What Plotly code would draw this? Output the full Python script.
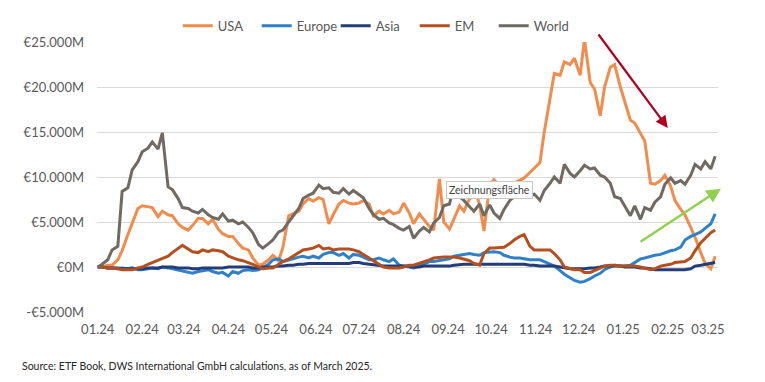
import plotly.graph_objects as go
from datetime import date, timedelta

# Observation dates: twice a week (Mon / Thu) from 1 Jan 2024 to 6 Mar 2025
start = date(2024, 1, 1)
dates = [start + timedelta(days=7 * (i // 2) + 3 * (i % 2)) for i in range(124)]

# Cumulative flows, in € thousand million
usa = [0, 0, 0.2, 0.2, 0.8, 1.8, 3.6, 4.8, 6.5, 6.8, 6.7, 6.6, 5.6, 6.2, 5.8, 5.7, 4.8, 4.4, 4.1, 4.6,
       5.4, 5.4, 4.8, 5.3, 4.2, 3.7, 3.4, 3.4, 2.6, 2.1, 1.9, 1.0, 0.2, 0.3, 0.8, 1.3, 0.7, 2.2, 5.7, 5.9,
       6.2, 7.0, 7.6, 7.3, 7.7, 7.5, 4.8, 5.8, 7.0, 7.4, 7.1, 7.0, 7.1, 7.4, 7.0, 5.7, 6.2, 5.9, 6.3, 5.9,
       6.1, 7.1, 6.0, 4.8, 5.9, 5.3, 4.5, 4.1, 9.8, 5.0, 4.2, 5.3, 6.8, 6.2, 7.6, 8.9, 6.9, 4.0, 9.1, 9.7,
       8.9, 8.6, 9.1, 9.3, 9.6, 9.9, 10.5, 11.0, 11.6, 15.0, 19.0, 21.5, 21.3, 22.8, 22.5, 23.2, 21.3, 25.3, 20.5, 19.8,
       16.8, 20.0, 22.2, 22.5, 20.0, 18.5, 16.3, 16.0, 14.9, 14.0, 9.3, 9.2, 9.6, 10.2, 9.0, 7.4, 6.4, 5.8, 4.4, 3.3,
       1.6, 0.4, -0.2, 1.2]

europe = [0, 0, -0.1, -0.1, -0.2, -0.1, -0.2, -0.1, -0.3, -0.3, -0.2, -0.1, -0.2, 0, -0.1, -0.2, -0.3, -0.4, -0.6, -0.7,
          -0.5, -0.4, -0.3, -0.5, -0.7, -0.6, -1.0, -0.5, -0.7, -0.4, -0.3, -0.4, -0.3, -0.1, 0.3, 0.8, 0.9, 0.6, 0.8, 0.9,
          1.1, 1.2, 1.0, 1.2, 1.0, 1.4, 1.6, 1.6, 1.3, 1.5, 1.0, 1.4, 1.3, 1.1, 0.8, 0.8, 1.0, 0.8, 0.6, 0.9,
          0.2, 0.1, 0, -0.1, 0.1, 0.3, 0.6, 0.6, 0.7, 0.8, 0.9, 1.2, 1.3, 1.4, 1.5, 1.4, 1.3, 1.6, 1.7, 1.7,
          1.6, 1.3, 1.1, 1.0, 1.0, 0.9, 0.8, 0.8, 0.8, 0.6, 0.3, 0.1, -0.4, -0.8, -1.2, -1.5, -1.7, -1.6, -1.3, -1.0,
          -0.7, -0.3, 0, 0.2, 0.1, 0.1, 0.2, 0.5, 0.9, 1.0, 1.2, 1.3, 1.4, 1.6, 1.8, 1.9, 2.2, 3.0, 3.4, 3.6,
          3.9, 4.3, 4.8, 5.9]

asia = [0, 0, -0.1, -0.1, -0.1, -0.2, -0.2, -0.2, -0.2, -0.2, -0.1, -0.1, -0.1, 0, 0, 0, -0.1, -0.1, -0.1, -0.2,
        -0.2, -0.1, -0.1, -0.1, -0.1, -0.1, 0, 0, 0, 0, 0, -0.1, -0.1, 0, 0, 0, 0.1, 0.1, 0.2, 0.2,
        0.3, 0.3, 0.4, 0.4, 0.4, 0.4, 0.4, 0.4, 0.4, 0.4, 0.4, 0.5, 0.5, 0.4, 0.3, 0.3, 0.2, 0.1, 0.1, 0.1,
        0.1, 0.1, 0.1, 0, 0, 0.1, 0.1, 0.1, 0.1, 0.1, 0.1, 0.2, 0.3, 0.3, 0.3, 0.3, 0.3, 0.3, 0.3, 0.3,
        0.3, 0.3, 0.3, 0.3, 0.3, 0.3, 0.2, 0.2, 0.1, 0.1, 0.1, 0.1, 0, -0.1, -0.2, -0.2, -0.2, -0.2, -0.1, -0.1,
        0, 0.1, 0.1, 0.1, 0.1, 0, 0, 0, -0.1, -0.1, -0.2, -0.3, -0.3, -0.3, -0.3, -0.3, -0.3, -0.3, -0.2, 0.1,
        0.2, 0.3, 0.4, 0.5]

em = [0, 0, -0.1, -0.1, -0.2, -0.3, -0.3, -0.3, -0.1, 0, 0.3, 0.5, 0.7, 0.9, 1.2, 1.6, 2.1, 2.4, 2.0, 1.7,
      1.6, 1.9, 1.7, 1.9, 1.8, 1.7, 1.2, 1.0, 0.8, 0.7, 0.5, 0.3, 0, -0.2, -0.1, -0.1, 0.3, 0.6, 0.9, 1.2,
      1.6, 1.9, 2.0, 2.1, 2.4, 2.0, 2.1, 1.9, 2.0, 2.0, 2.0, 1.9, 1.7, 1.4, 1.0, 0.7, 0.3, 0, -0.1, -0.1,
      -0.1, 0, 0.2, 0.2, 0.4, 0.6, 0.8, 1.0, 1.1, 1.1, 1.1, 1.1, 1.0, 0.9, 0.7, 0.4, 0.2, 1.5, 2.1, 2.1,
      2.2, 2.2, 2.6, 3.0, 3.4, 3.6, 2.3, 1.9, 1.9, 1.9, 1.9, 1.5, 0.8, 0, -0.2, -0.3, -0.3, -0.6, -0.6, -0.4,
      -0.1, 0.1, 0.2, 0.2, 0.1, 0.1, 0.1, 0.1, 0, -0.1, -0.3, -0.2, 0.1, 0.2, 0.3, 0.5, 0.6, 0.6, 1.0, 1.8,
      2.7, 3.2, 3.8, 4.1]

world = [0, 0.3, 0.8, 1.9, 2.3, 8.4, 8.8, 10.8, 11.7, 12.8, 13.2, 13.9, 13.1, 14.9, 8.9, 8.6, 7.6, 6.6, 6.5, 6.2,
         6.0, 6.4, 5.8, 5.5, 5.3, 5.9, 5.1, 5.2, 4.8, 5.0, 4.4, 3.8, 2.5, 2.1, 2.6, 3.0, 3.9, 4.1, 5.0, 5.6,
         6.5, 7.6, 8.0, 8.2, 9.1, 8.7, 8.8, 8.3, 8.2, 8.7, 8.1, 8.5, 8.0, 7.7, 6.5, 5.8, 5.3, 5.4, 4.9, 4.7,
         4.3, 4.1, 4.5, 3.2, 4.0, 4.4, 3.9, 4.9, 5.5, 6.8, 7.0, 9.0, 7.8, 7.4, 6.7, 6.2, 7.0, 5.7, 6.9, 6.0,
         5.4, 6.4, 7.4, 7.8, 7.9, 8.5, 7.8, 8.1, 7.4, 8.5, 9.3, 10.0, 9.3, 11.4, 10.4, 10.0, 10.7, 11.3, 10.9, 11.0,
         10.2, 10.0, 9.3, 7.8, 7.6, 6.8, 5.7, 6.8, 5.3, 6.6, 6.3, 7.2, 7.8, 9.2, 9.9, 9.3, 9.6, 9.2, 10.2, 11.4,
         10.9, 11.7, 10.9, 12.3]

series_names = ["USA", "Europe", "Asia", "EM", "World"]
series_values = [usa, europe, asia, em, world]
series_colors = ["#F28C4D", "#2F80C6", "#223D78", "#B4501F", "#716A62"]

month_ticks = ["2024-01-01", "2024-02-01", "2024-03-01", "2024-04-01", "2024-05-01", "2024-06-01",
               "2024-07-01", "2024-08-01", "2024-09-01", "2024-10-01", "2024-11-01", "2024-12-01",
               "2025-01-01", "2025-02-01", "2025-03-01"]
month_labels = ["01.24", "02.24", "03.24", "04.24", "05.24", "06.24", "07.24", "08.24", "09.24",
                "10.24", "11.24", "12.24", "01.25", "02.25", "03.25"]

y_ticks = [-5000, 0, 5000, 10000, 15000, 20000, 25000]
y_labels = ["-€5.000M", "€0M", "€5.000M", "€10.000M", "€15.000M", "€20.000M", "€25.000M"]

FONT = "Lato"
TXT = "#595959"

fig = go.Figure()
for name, vals, col in zip(series_names, series_values, series_colors):
    fig.add_trace(go.Scatter(
        x=dates, y=[v * 1000 for v in vals], name=name, mode="lines",
        line=dict(color=col, width=3, shape="linear"),
    ))

# Trend arrows (data coordinates)
fig.add_annotation(x="2025-02-01", y=15450, ax="2024-12-14", ay=26000,
                   xref="x", yref="y", axref="x", ayref="y", text="",
                   showarrow=True, arrowhead=2, arrowsize=1.1, arrowwidth=2.2,
                   arrowcolor="#B0001E")
fig.add_annotation(x="2025-03-10", y=8700, ax="2025-01-12", ay=2700,
                   xref="x", yref="y", axref="x", ayref="y", text="",
                   showarrow=True, arrowhead=2, arrowsize=1.1, arrowwidth=2.6,
                   arrowcolor="#92D050")

# Excel "Zeichnungsfläche" tooltip remnant
fig.add_annotation(x="2024-09-30", y=8600, xref="x", yref="y", text="Zeichnungsfläche",
                   showarrow=False, font=dict(family=FONT, size=10.5, color="#404040"),
                   bgcolor="white", bordercolor="#C8C8C8", borderwidth=1, borderpad=2)

# Source note (below the plot, left aligned)
fig.add_annotation(x=-0.124, y=-0.2, xref="paper", yref="paper", text=
                   "Source: ETF Book, DWS International GmbH calculations, as of March 2025.",
                   showarrow=False, xanchor="left", yanchor="middle",
                   font=dict(family=FONT, size=10.5, color="#262626"))

# The page places the figure 8px in from the top-left, so margins are reduced by 8px
fig.update_layout(
    width=765, height=382,
    margin=dict(l=89, r=55, t=34, b=78, autoexpand=False),
    paper_bgcolor="white", plot_bgcolor="white",
    font=dict(family=FONT, size=13, color=TXT),
    showlegend=True,
    legend=dict(orientation="h", x=0.448, xanchor="center", y=1.06, yanchor="middle",
                font=dict(family=FONT, size=13, color=TXT), itemwidth=30,
                entrywidth=34, entrywidthmode="pixels",
                bgcolor="rgba(0,0,0,0)"),
    xaxis=dict(type="date", range=["2023-12-31 12:00", "2025-03-08"],
               tickvals=month_ticks, ticktext=month_labels, showgrid=False,
               zeroline=False, showline=False, ticks="", ticklabelstandoff=8,
               tickfont=dict(family=FONT, size=13, color=TXT)),
    yaxis=dict(range=[-5000, 25000], tickvals=y_ticks, ticktext=y_labels,
               showgrid=True, gridcolor="#D9D9D9", gridwidth=1, zeroline=False,
               showline=False, ticks="", ticklabelstandoff=12,
               tickfont=dict(family=FONT, size=13, color=TXT)),
)

fig.write_html("out.html")
